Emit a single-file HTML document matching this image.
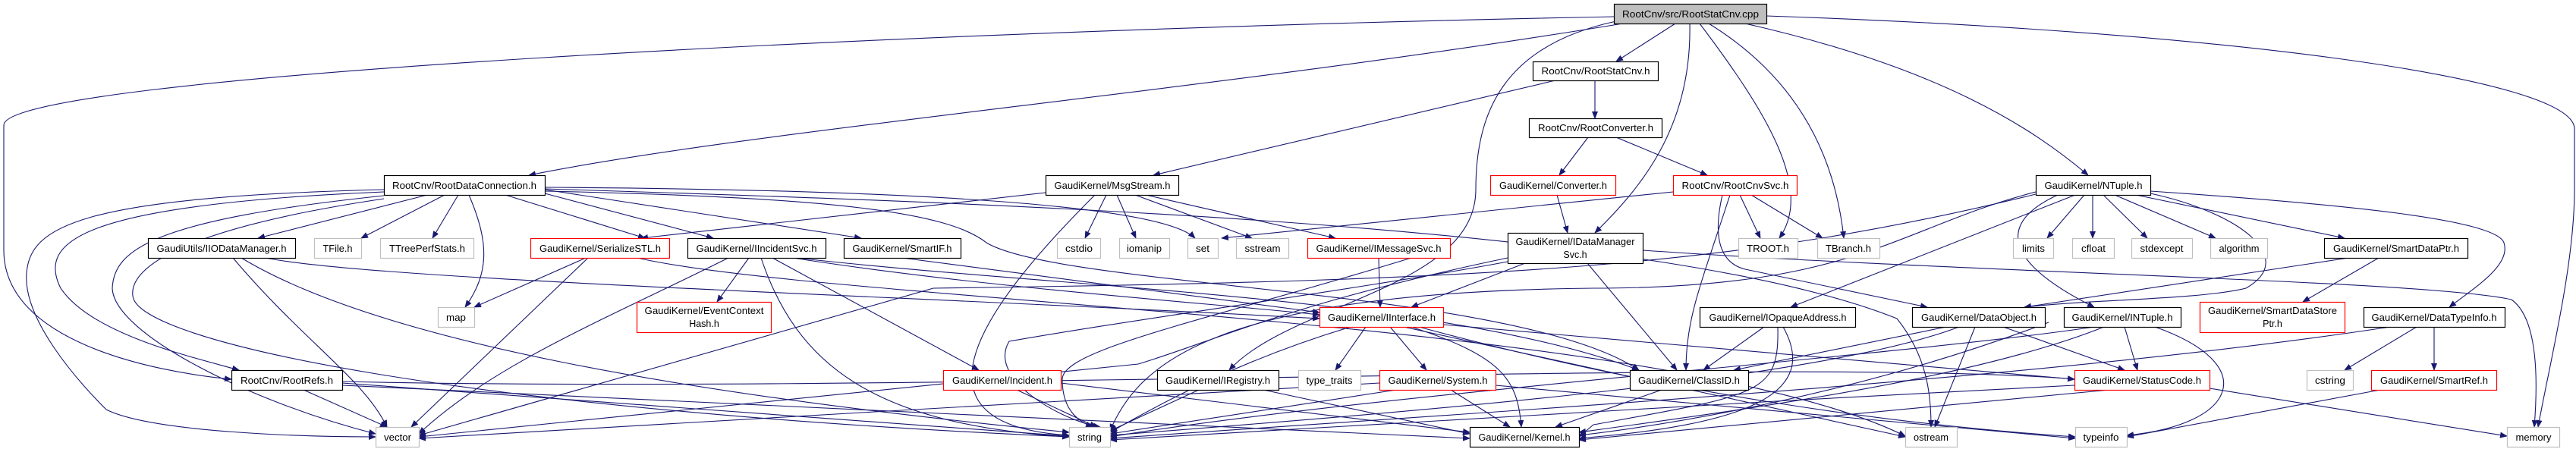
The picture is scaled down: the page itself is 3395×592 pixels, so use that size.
<!DOCTYPE html>
<html><head><meta charset="utf-8"><style>
html,body{margin:0;padding:0;background:#fff;width:3395px;height:592px;overflow:hidden}
svg text{font-family:"Liberation Sans",sans-serif;font-size:12.5px;fill:#000}
.e{fill:none;stroke:#191970;stroke-width:1.1}
</style></head><body>
<svg width="3395" height="592" viewBox="0 0 3395 592" xmlns="http://www.w3.org/2000/svg">
<defs><marker id="a" markerWidth="10" markerHeight="8" refX="9" refY="4" orient="auto" markerUnits="userSpaceOnUse"><path d="M0,0 L10,4 L0,8 z" fill="#191970"/></marker></defs>
<g class="e" marker-end="url(#a)">
<!-- cpp -->
<path d="M2208 31 L2130 81"/>
<path d="M2227 31 C2230 170 2160 250 2102 307"/>
<path d="M2240 31 C2330 150 2390 250 2345 314"/>
<path d="M2252 31 C2380 110 2420 220 2430 314"/>
<path d="M2300 31 C2560 90 2680 170 2752 231"/>
<path d="M2328 21 C2900 40 3393 100 3393 170 L3393 250 C3393 350 3360 480 3345 563"/>
<path d="M2145 30 C1600 120 1000 170 697 231"/>
<path d="M2127 22 C1200 40 5 100 5 165 L5 330 C5 450 200 490 305 500"/>
<path d="M2130 28 C1980 60 1945 150 1945 250 C1945 380 1700 400 1620 488"/>
<!-- RootStatCnv.h -->
<path d="M2102 106 L2102 156"/>
<path d="M2050 106 L1520 231"/>
<path d="M2093 181 L2055 231"/>
<path d="M2130 181 L2250 231"/>
<path d="M2052 257 L2066 307"/>
<!-- RootCnvSvc -->
<path d="M2293 257 L2320 314"/>
<path d="M2308 257 L2402 314"/>
<path d="M2280 257 C2240 380 2222 420 2222 488"/>
<path d="M2270 257 C2260 300 2260 345 2300 355 L2540 405"/>
<path d="M2205 253 L1610 314"/>
<!-- Msg -->
<path d="M1458 257 L1430 314"/>
<path d="M1472 257 L1497 314"/>
<path d="M1496 257 L1650 314"/>
<path d="M1510 257 L1760 314"/>
<path d="M1443 257 C1300 400 1180 560 1409 574"/>
<path d="M1378 254 L845 314"/>
<!-- RDC -->
<path d="M563 257 L340 314"/>
<path d="M586 257 L476 314"/>
<path d="M604 257 L570 314"/>
<path d="M618 257 C645 320 645 360 613 405"/>
<path d="M666 257 L850 314"/>
<path d="M718 255 L940 314"/>
<path d="M718 250 L1135 314"/>
<path d="M718 247 C1200 250 1530 270 1575 314"/>
<path d="M506 253 C100 270 50 320 80 380 C120 440 250 470 315 488"/>
<path d="M506 250 C100 260 40 300 35 360 C30 420 100 500 140 540 C200 570 400 576 495 576"/>
<path d="M506 258 C200 290 150 330 148 380 C150 440 330 530 495 572"/>
<path d="M506 262 C250 300 170 350 175 390 C180 450 600 540 1409 576"/>
<path d="M718 252 C1100 260 1250 280 1300 320 C1400 380 2000 380 2160 488"/>
<path d="M718 249 C1400 270 2200 300 2500 420 C2540 470 2545 520 2545 563"/>
<!-- IIOD -->
<path d="M307 340 C400 450 480 500 510 563"/>
<path d="M318 340 C500 450 900 520 1409 570"/>
<path d="M350 340 C500 370 1200 390 1739 420"/>
<!-- Serialize -->
<path d="M772 340 L625 405"/>
<path d="M775 340 L542 563"/>
<path d="M840 340 C1100 400 2200 420 2511 575"/>
<!-- IIncidentSvc -->
<path d="M987 340 L945 398"/>
<path d="M1003 340 C1050 480 1150 560 1409 576"/>
<path d="M1018 340 L1290 488"/>
<path d="M1045 340 C1300 380 1600 400 1739 415"/>
<path d="M960 340 C800 420 650 480 552 572"/>
<path d="M1050 340 C1400 380 1900 390 2160 488"/>
<path d="M1189 340 L1739 412"/>
<!-- IMsg -->
<path d="M1817 340 L1819 405"/>
<path d="M1860 340 C1600 420 1400 460 1400 500 C1400 540 1420 555 1440 563"/>
<!-- IDMS -->
<path d="M2010 347 L1860 405"/>
<path d="M2092 347 L2210 488"/>
<path d="M1987 340 C1700 400 1600 450 1500 480 L552 576"/>
<path d="M1987 345 C1800 380 1500 420 1330 450 C1300 500 1400 555 1450 563"/>
<path d="M2165 330 C2600 360 3200 370 3310 395 C3345 420 3345 500 3340 563"/>
<!-- IInterface -->
<path d="M1800 431 L1760 488"/>
<path d="M1832 431 L1880 488"/>
<path d="M1860 431 C1980 470 2000 500 2005 563"/>
<path d="M1902 428 L2734 500"/>
<path d="M1780 431 C1650 470 1550 520 1463 570"/>
<path d="M1870 431 C2200 520 2500 560 2735 576"/>
<path d="M1850 431 L2511 576"/>
<!-- System -->
<path d="M1912 514 L1990 563"/>
<path d="M1840 514 L1463 572"/>
<path d="M1818 505 C1500 520 900 560 552 578"/>
<path d="M1971 508 L2735 578"/>
<!-- Incident, IRegistry, ClassID -->
<path d="M1340 514 L1445 563"/>
<path d="M1398 505 L1937 570"/>
<path d="M1580 514 L1463 568"/>
<path d="M1665 514 L1937 572"/>
<path d="M2190 514 L2050 563"/>
<!-- IOpaque -->
<path d="M2325 431 L2245 488"/>
<path d="M2343 431 C2345 520 2320 520 2100 560 L2081 576"/>
<path d="M2350 431 C2400 520 2300 560 2081 578"/>
<!-- DataObject -->
<path d="M2565 431 L2285 488"/>
<path d="M2640 431 L2800 488"/>
<path d="M2603 431 L2550 563"/>
<path d="M2582 431 C2400 500 1900 540 1463 574"/>
<path d="M2700 425 C2450 520 2200 560 2081 574"/>
<!-- NTuple -->
<path d="M2747 257 L2698 314"/>
<path d="M2758 257 L2758 314"/>
<path d="M2772 257 L2830 314"/>
<path d="M2787 257 L2920 314"/>
<path d="M2815 257 L3090 314"/>
<path d="M2834 252 C3100 270 3290 290 3300 320 C3310 350 3260 380 3228 405"/>
<path d="M2712 257 C2640 290 2630 340 2760 405"/>
<path d="M2834 255 C2950 280 3030 340 2960 380 C2900 395 2750 395 2668 405"/>
<path d="M2735 257 L2360 405"/>
<path d="M2683 253 C2500 300 2450 380 2100 380 C1600 385 1500 480 1463 568"/>
<path d="M2683 256 C2300 350 2000 370 1230 380 L552 574"/>
<!-- SDP -->
<path d="M3135 340 L3035 398"/>
<path d="M3095 340 L2668 405"/>
<!-- INTuple -->
<path d="M2800 431 L2817 488"/>
<path d="M2840 431 C2980 480 2950 560 2803 574"/>
<path d="M2773 431 C2600 500 2300 540 2081 570"/>
<path d="M2760 431 C2500 470 1800 520 1463 576"/>
<!-- DTI -->
<path d="M3185 431 L3090 488"/>
<path d="M3208 431 L3208 488"/>
<path d="M3150 431 C2700 500 2000 540 1463 578"/>
<path d="M3137 514 L2803 576"/>
<!-- StatusCode -->
<path d="M2912 512 L3304 575"/>
<path d="M2780 514 L2081 580"/>
<path d="M2734 508 C2300 530 1800 560 1463 580"/>
<!-- RootRefs -->
<path d="M400 514 L510 563"/>
<path d="M451 505 L1409 575"/>
<path d="M451 508 L1937 578"/>
<path d="M451 503 C1200 520 2400 470 2734 500"/>
</g>
<g stroke-width="1.2">
<rect x="2127.5" y="5.5" width="201" height="26" fill="#bfbfbf" stroke="#000"/>
<g fill="#fff" stroke="#000">
<rect x="2020.5" y="81.5" width="165" height="25"/>
<rect x="2015.5" y="156.5" width="175" height="25"/>
<rect x="506.5" y="231.5" width="212" height="26"/>
<rect x="1378.5" y="231.5" width="175" height="26"/>
<rect x="2683.5" y="231.5" width="151" height="26"/>
<rect x="195.5" y="314.5" width="194" height="26"/>
<rect x="906.5" y="314.5" width="182" height="26"/>
<rect x="1112.5" y="314.5" width="154" height="26"/>
<rect x="1987.5" y="307.5" width="178" height="40"/>
<rect x="3063.5" y="314.5" width="189" height="26"/>
<rect x="2240.5" y="405.5" width="205" height="26"/>
<rect x="2520.5" y="405.5" width="175" height="26"/>
<rect x="2720.5" y="405.5" width="154" height="26"/>
<rect x="3115.5" y="405.5" width="186" height="26"/>
<rect x="305.5" y="488.5" width="146" height="26"/>
<rect x="1525.5" y="488.5" width="160" height="26"/>
<rect x="2148.5" y="488.5" width="156" height="26"/>
<rect x="1937.5" y="563.5" width="144" height="26"/>
</g>
<g fill="#fff" stroke="#ff0000">
<rect x="1964.5" y="231.5" width="165" height="26"/>
<rect x="2205.5" y="231.5" width="163" height="26"/>
<rect x="699.5" y="314.5" width="183" height="26"/>
<rect x="1723.5" y="314.5" width="188" height="26"/>
<rect x="839.5" y="398.5" width="177" height="40"/>
<rect x="1739.5" y="405.5" width="163" height="26"/>
<rect x="2899.5" y="398.5" width="191" height="40"/>
<rect x="1243.5" y="488.5" width="155" height="26"/>
<rect x="1818.5" y="488.5" width="153" height="26"/>
<rect x="2734.5" y="488.5" width="178" height="26"/>
<rect x="3125.5" y="488.5" width="165" height="26"/>
</g>
<g fill="#fff" stroke="#bfbfbf">
<rect x="414.5" y="314.5" width="62" height="26"/>
<rect x="501.5" y="314.5" width="123" height="26"/>
<rect x="1393.5" y="314.5" width="57" height="26"/>
<rect x="1475.5" y="314.5" width="66" height="26"/>
<rect x="1565.5" y="314.5" width="40" height="26"/>
<rect x="1629.5" y="314.5" width="69" height="26"/>
<rect x="2291.5" y="314.5" width="78" height="26"/>
<rect x="2395.5" y="314.5" width="82" height="26"/>
<rect x="2653.5" y="314.5" width="53" height="26"/>
<rect x="2731.5" y="314.5" width="55" height="26"/>
<rect x="2809.5" y="314.5" width="80" height="26"/>
<rect x="2913.5" y="314.5" width="75" height="26"/>
<rect x="577.5" y="405.5" width="48" height="26"/>
<rect x="1711.5" y="488.5" width="82" height="26"/>
<rect x="3040.5" y="488.5" width="61" height="26"/>
<rect x="495.5" y="563.5" width="57" height="26"/>
<rect x="1409.5" y="563.5" width="54" height="26"/>
<rect x="2511.5" y="563.5" width="68" height="26"/>
<rect x="2735.5" y="563.5" width="68" height="26"/>
<rect x="3304.5" y="563.5" width="69" height="26"/>
</g>
</g>
<g text-anchor="middle" lengthAdjust="spacingAndGlyphs">
<text x="2228" y="23" textLength="180" lengthAdjust="spacingAndGlyphs">RootCnv/src/RootStatCnv.cpp</text>
<text x="2103" y="98" textLength="143" lengthAdjust="spacingAndGlyphs">RootCnv/RootStatCnv.h</text>
<text x="2103" y="173" textLength="152" lengthAdjust="spacingAndGlyphs">RootCnv/RootConverter.h</text>
<text x="612" y="249" textLength="190" lengthAdjust="spacingAndGlyphs">RootCnv/RootDataConnection.h</text>
<text x="1466" y="249" textLength="153" lengthAdjust="spacingAndGlyphs">GaudiKernel/MsgStream.h</text>
<text x="2047" y="249" textLength="142" lengthAdjust="spacingAndGlyphs">GaudiKernel/Converter.h</text>
<text x="2287" y="249" textLength="141" lengthAdjust="spacingAndGlyphs">RootCnv/RootCnvSvc.h</text>
<text x="2759" y="249" textLength="129" lengthAdjust="spacingAndGlyphs">GaudiKernel/NTuple.h</text>
<text x="292" y="332" textLength="171" lengthAdjust="spacingAndGlyphs">GaudiUtils/IIODataManager.h</text>
<text x="445" y="332" textLength="39" lengthAdjust="spacingAndGlyphs">TFile.h</text>
<text x="563" y="332" textLength="100" lengthAdjust="spacingAndGlyphs">TTreePerfStats.h</text>
<text x="791" y="332" textLength="160" lengthAdjust="spacingAndGlyphs">GaudiKernel/SerializeSTL.h</text>
<text x="997" y="332" textLength="159" lengthAdjust="spacingAndGlyphs">GaudiKernel/IIncidentSvc.h</text>
<text x="1189" y="332" textLength="131" lengthAdjust="spacingAndGlyphs">GaudiKernel/SmartIF.h</text>
<text x="1422" y="332" textLength="36" lengthAdjust="spacingAndGlyphs">cstdio</text>
<text x="1508" y="332" textLength="46" lengthAdjust="spacingAndGlyphs">iomanip</text>
<text x="1585" y="332" textLength="18" lengthAdjust="spacingAndGlyphs">set</text>
<text x="1664" y="332" textLength="47" lengthAdjust="spacingAndGlyphs">sstream</text>
<text x="1817" y="332" textLength="165" lengthAdjust="spacingAndGlyphs">GaudiKernel/IMessageSvc.h</text>
<text x="2076" y="323" textLength="157" lengthAdjust="spacingAndGlyphs">GaudiKernel/IDataManager</text>
<text x="2076" y="340">Svc.h</text>
<text x="2330" y="332" textLength="56" lengthAdjust="spacingAndGlyphs">TROOT.h</text>
<text x="2436" y="332" textLength="60" lengthAdjust="spacingAndGlyphs">TBranch.h</text>
<text x="2680" y="332" textLength="30" lengthAdjust="spacingAndGlyphs">limits</text>
<text x="2759" y="332" textLength="32" lengthAdjust="spacingAndGlyphs">cfloat</text>
<text x="2849" y="332" textLength="57" lengthAdjust="spacingAndGlyphs">stdexcept</text>
<text x="2951" y="332" textLength="53" lengthAdjust="spacingAndGlyphs">algorithm</text>
<text x="3158" y="332" textLength="166" lengthAdjust="spacingAndGlyphs">GaudiKernel/SmartDataPtr.h</text>
<text x="601" y="423" textLength="26" lengthAdjust="spacingAndGlyphs">map</text>
<text x="928" y="414" textLength="157" lengthAdjust="spacingAndGlyphs">GaudiKernel/EventContext</text>
<text x="928" y="431">Hash.h</text>
<text x="1821" y="423" textLength="142" lengthAdjust="spacingAndGlyphs">GaudiKernel/IInterface.h</text>
<text x="2343" y="423" textLength="181" lengthAdjust="spacingAndGlyphs">GaudiKernel/IOpaqueAddress.h</text>
<text x="2608" y="423" textLength="152" lengthAdjust="spacingAndGlyphs">GaudiKernel/DataObject.h</text>
<text x="2797" y="423" textLength="133" lengthAdjust="spacingAndGlyphs">GaudiKernel/INTuple.h</text>
<text x="2995" y="414" textLength="170" lengthAdjust="spacingAndGlyphs">GaudiKernel/SmartDataStore</text>
<text x="2995" y="431">Ptr.h</text>
<text x="3208" y="423" textLength="165" lengthAdjust="spacingAndGlyphs">GaudiKernel/DataTypeInfo.h</text>
<text x="378" y="506" textLength="122" lengthAdjust="spacingAndGlyphs">RootCnv/RootRefs.h</text>
<text x="1321" y="506" textLength="132" lengthAdjust="spacingAndGlyphs">GaudiKernel/Incident.h</text>
<text x="1605" y="506" textLength="138" lengthAdjust="spacingAndGlyphs">GaudiKernel/IRegistry.h</text>
<text x="1752" y="506" textLength="61" lengthAdjust="spacingAndGlyphs">type_traits</text>
<text x="1895" y="506" textLength="131" lengthAdjust="spacingAndGlyphs">GaudiKernel/System.h</text>
<text x="2226" y="506" textLength="134" lengthAdjust="spacingAndGlyphs">GaudiKernel/ClassID.h</text>
<text x="2823" y="506" textLength="156" lengthAdjust="spacingAndGlyphs">GaudiKernel/StatusCode.h</text>
<text x="3071" y="506" textLength="40" lengthAdjust="spacingAndGlyphs">cstring</text>
<text x="3208" y="506" textLength="142" lengthAdjust="spacingAndGlyphs">GaudiKernel/SmartRef.h</text>
<text x="524" y="581" textLength="36" lengthAdjust="spacingAndGlyphs">vector</text>
<text x="1436" y="581" textLength="32" lengthAdjust="spacingAndGlyphs">string</text>
<text x="2009" y="581" textLength="121" lengthAdjust="spacingAndGlyphs">GaudiKernel/Kernel.h</text>
<text x="2545" y="581" textLength="46" lengthAdjust="spacingAndGlyphs">ostream</text>
<text x="2769" y="581" textLength="47" lengthAdjust="spacingAndGlyphs">typeinfo</text>
<text x="3339" y="581" textLength="47" lengthAdjust="spacingAndGlyphs">memory</text>
</g>
</svg>
</body></html>
